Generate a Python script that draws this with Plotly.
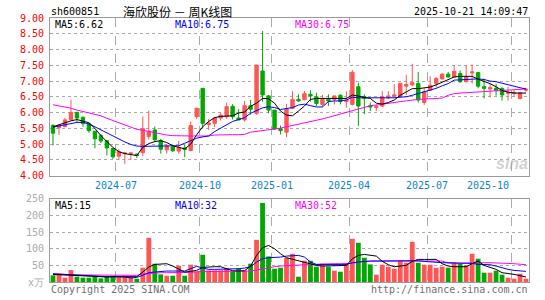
import plotly.graph_objects as go

# ---------------- data (weekly K-line, 海欣股份 sh600851) ----------------
open_ = [5.59,5.52,5.56,5.78,6.01,5.85,5.64,5.41,5.27,5.11,
         4.86,4.62,4.70,4.70,4.68,4.73,5.24,5.45,5.11,4.82,
         4.91,4.78,4.88,4.80,5.87,6.77,5.62,5.66,5.83,5.87,
         6.20,5.83,5.77,6.22,5.98,7.32,6.53,6.08,5.49,5.38,
         6.14,6.42,6.41,6.58,6.50,6.26,6.42,6.42,6.55,6.35,
         6.26,6.82,6.51,6.22,6.16,6.21,6.47,6.52,6.51,6.84,
         6.88,6.92,6.32,6.71,6.92,7.07,7.22,7.13,7.24,6.98,
         7.26,7.27,6.82,6.75,6.77,6.77,6.61,6.61,6.45,6.71]
high_ = [5.64,5.64,5.83,6.41,6.02,5.88,5.65,5.42,5.32,5.12,
         4.87,4.84,4.74,4.73,4.71,5.88,6.06,5.56,5.17,5.01,
         4.95,5.10,4.99,5.72,6.14,6.77,5.80,5.87,6.00,6.32,
         6.27,6.11,6.37,6.40,7.51,8.59,6.56,6.08,5.59,6.27,
         6.68,6.58,6.68,6.71,6.63,6.56,6.58,6.53,6.58,6.68,
         7.35,6.95,6.58,6.32,6.26,6.68,6.68,6.90,6.93,7.20,
         7.55,7.29,6.77,7.15,7.13,7.26,7.29,7.50,7.34,7.50,
         7.53,7.29,7.08,6.92,6.92,6.80,6.82,6.71,6.63,6.79]
low_ = [4.96,5.29,5.53,5.75,5.70,5.55,5.36,4.87,5.03,4.64,
        4.53,4.50,4.37,4.50,4.56,4.62,5.15,5.07,4.70,4.70,
        4.75,4.70,4.59,4.77,5.80,5.52,5.45,5.54,5.75,5.80,
        5.78,5.75,5.72,5.93,5.93,6.35,5.98,5.45,5.31,5.22,
        6.11,6.35,6.39,6.35,6.21,6.18,6.21,6.26,6.26,6.16,
        6.23,5.58,5.95,6.05,6.05,6.18,6.42,6.47,6.47,6.55,
        6.84,6.32,6.24,6.69,6.80,7.05,7.11,7.11,6.94,6.96,
        6.92,6.77,6.45,6.48,6.54,6.38,6.38,6.50,6.42,6.66]
close_ = [5.35,5.58,5.77,6.01,5.83,5.65,5.43,5.17,5.10,4.88,
          4.60,4.76,4.72,4.72,4.64,5.49,5.41,5.14,4.84,4.94,
          4.79,4.89,4.83,5.59,6.14,5.66,5.67,5.83,5.92,6.19,
          5.87,5.77,6.22,6.11,7.51,6.56,6.08,5.48,5.43,6.11,
          6.42,6.37,6.60,6.53,6.29,6.42,6.37,6.53,6.35,6.40,
          7.28,6.21,6.45,6.18,6.20,6.50,6.53,6.56,6.93,6.89,
          6.95,6.40,6.66,6.87,7.08,7.22,7.13,7.31,6.98,7.13,
          7.29,6.84,6.77,6.79,6.71,6.56,6.64,6.64,6.63,6.74]
ma5 = [5.55,5.62,5.68,5.74,5.78,5.73,5.68,5.50,5.27,5.08,
       4.90,4.76,4.70,4.67,4.64,4.90,5.02,5.08,5.11,5.05,
       4.95,4.90,4.85,5.00,5.30,5.55,5.72,5.84,5.88,5.89,
       5.90,5.99,6.02,6.20,6.30,6.45,6.44,6.30,6.05,5.92,
       5.90,6.05,6.21,6.42,6.45,6.45,6.45,6.45,6.45,6.45,
       6.56,6.52,6.48,6.45,6.30,6.27,6.32,6.40,6.55,6.66,
       6.76,6.76,6.78,6.81,6.88,6.97,7.06,7.13,7.15,7.15,
       7.15,7.06,7.00,6.92,6.82,6.70,6.65,6.62,6.62,6.62]
ma10 = [5.54,5.58,5.63,5.67,5.69,5.69,5.64,5.55,5.45,5.35,
        5.26,5.17,5.07,4.99,4.94,4.93,4.93,4.93,4.93,4.93,
        4.93,4.95,5.03,5.12,5.19,5.23,5.26,5.40,5.50,5.60,
        5.72,5.78,5.84,5.98,6.07,6.15,6.19,6.16,6.10,6.12,
        6.16,6.24,6.27,6.22,6.18,6.18,6.35,6.37,6.37,6.40,
        6.49,6.47,6.47,6.47,6.46,6.45,6.45,6.47,6.49,6.50,
        6.55,6.60,6.66,6.72,6.77,6.85,6.92,7.03,7.04,7.05,
        7.08,7.07,7.05,7.00,6.98,6.93,6.87,6.82,6.79,6.75]
ma30 = [6.25,6.22,6.19,6.14,6.08,6.04,6.00,5.95,5.90,5.82,
        5.75,5.68,5.60,5.53,5.47,5.44,5.40,5.35,5.32,5.29,
        5.27,5.26,5.26,5.26,5.26,5.26,5.26,5.29,5.30,5.30,
        5.30,5.30,5.31,5.38,5.40,5.43,5.45,5.48,5.51,5.55,
        5.59,5.62,5.66,5.70,5.75,5.80,5.85,5.90,5.96,6.01,
        6.07,6.11,6.17,6.22,6.24,6.26,6.28,6.32,6.35,6.38,
        6.40,6.42,6.43,6.44,6.45,6.46,6.55,6.60,6.62,6.63,
        6.64,6.66,6.67,6.68,6.69,6.70,6.71,6.72,6.74,6.75]
volume = [20,25,13,36,16,13,13,16,11,16,
          16,16,16,16,10,43,133,55,23,19,
          19,49,19,52,31,82,35,35,35,42,
          32,41,34,55,127,238,77,40,43,73,
          85,16,64,64,46,55,46,34,31,55,
          130,118,73,53,22,52,46,40,64,58,
          121,58,52,52,43,46,43,58,55,49,
          85,70,28,28,34,22,13,10,25,10]
vma5 = [23,22,22,21,20,19,18,15,14,15,
        16,16,15,14,16,30,45,53,54,55,
        48,40,30,32,35,44,46,46,46,40,
        34,33,34,48,80,103,110,100,85,73,
        68,63,58,53,50,48,49,50,50,50,
        70,80,83,80,78,62,52,46,48,50,
        62,68,68,68,68,55,48,46,46,46,
        55,63,50,45,38,28,26,23,19,15]
vma10 = [25,24,23,22,20,18,17,16,16,16,
         16,16,15,12,14,20,28,30,32,33,
         33,33,33,40,47,42,38,38,38,38,
         38,40,42,46,60,70,73,73,75,78,
         80,80,75,60,53,53,53,53,53,53,
         58,61,62,63,63,63,63,63,64,65,
         65,64,62,60,58,58,58,58,58,58,
         56,53,53,52,48,42,38,35,33,32]
vma30 = [22,22,21,21,21,20,20,20,20,20,
         20,20,20,20,20,24,26,27,28,28,
         28,28,28,29,31,31,31,31,31,31,
         31,31,32,33,36,40,44,46,48,50,
         50,51,52,53,54,55,55,55,55,55,
         56,60,62,63,63,63,63,63,63,63,
         63,63,63,63,63,63,57,56,56,57,
         58,58,58,58,58,57,56,55,54,52]
month_labels = ["2024-07", "2024-10", "2025-01", "2025-04", "2025-07", "2025-10"]
month_start_idx = [11, 25, 37, 50, 63, 77]
price_ticks = [4.0, 4.5, 5.0, 5.5, 6.0, 6.5, 7.0, 7.5, 8.0, 8.5, 9.0]
vol_ticks = [0, 50, 100, 150, 200, 250]
vol_tick_text = ["x万", "50", "100", "150", "200", "250"]

# ---------------- styling ----------------
RED = "#FF5555"
GREEN = "#00A800"
BLUE = "#0000FF"
MAG = "#FF00FF"
BLACK = "#000000"
GRID = "#ABABAB"
FRAME = "#9A9A9A"
MONO = "DejaVu Sans Mono"
CJK = "Noto Sans CJK SC"

N = len(close_)
x = list(range(N))
grid_x = [i - 0.5 for i in month_start_idx]

fig = go.Figure()
fig.add_trace(go.Candlestick(
    x=x, open=open_, high=high_, low=low_, close=close_,
    increasing=dict(line=dict(color=RED, width=1), fillcolor=RED),
    decreasing=dict(line=dict(color=GREEN, width=1), fillcolor=GREEN),
    whiskerwidth=0, xaxis="x", yaxis="y", showlegend=False, hoverinfo="skip"))
for arr, col in [(ma30, MAG), (ma10, BLUE), (ma5, BLACK)]:
    fig.add_trace(go.Scatter(x=x, y=arr, mode="lines", line=dict(color=col, width=1),
                             xaxis="x", yaxis="y", showlegend=False, hoverinfo="skip"))

vol_colors = [RED if c >= o else GREEN for o, c in zip(open_, close_)]
fig.add_trace(go.Bar(x=x, y=volume, width=0.8, marker=dict(color=vol_colors, line=dict(width=0)),
                     xaxis="x2", yaxis="y2", showlegend=False, hoverinfo="skip"))
for arr, col in [(vma30, MAG), (vma10, BLUE), (vma5, BLACK)]:
    fig.add_trace(go.Scatter(x=x, y=arr, mode="lines", line=dict(color=col, width=1),
                             xaxis="x2", yaxis="y2", showlegend=False, hoverinfo="skip"))

W, H = 545, 300
ML, MR, MT, MB = 50, 15.5, 18, 15
pw = W - ML - MR
ph = H - MT - MB


def px(xp):
    return (xp - ML) / pw


def py(yp):
    return (H - MB - yp) / ph


top_dom = [py(177.5), 1.0]
bot_dom = [0.0, py(201)]

xcommon = dict(range=[-0.5, N - 0.5], tickvals=grid_x, showticklabels=False, ticks="",
               showgrid=True, gridcolor=GRID, griddash="dash", gridwidth=1,
               showline=True, mirror=True, linecolor=FRAME, linewidth=1, zeroline=False,
               fixedrange=True)

fig.update_layout(
    width=W, height=H,
    margin=dict(l=ML, r=MR, t=MT, b=MB, pad=0),
    paper_bgcolor="white", plot_bgcolor="white",
    showlegend=False, boxgap=0.2,
    xaxis=dict(domain=[0, 1], anchor="y", rangeslider=dict(visible=False), **xcommon),
    xaxis2=dict(domain=[0, 1], anchor="y2", matches="x", **xcommon),
    yaxis=dict(domain=top_dom, anchor="x", range=[4, 9], tickvals=price_ticks,
               ticktext=["%.2f" % v for v in price_ticks],
               tickfont=dict(family=MONO, size=10, color="#FF0000"),
               showgrid=True, gridcolor=GRID, griddash="dot", gridwidth=1,
               showline=True, mirror=True, linecolor=FRAME, linewidth=1, zeroline=False,
               ticks="", ticklabelstandoff=3),
    yaxis2=dict(domain=bot_dom, anchor="x2", range=[0, 250], tickvals=vol_ticks,
                ticktext=vol_tick_text,
                tickfont=dict(family=MONO, size=10, color="#AAAAAA"),
                showgrid=True, gridcolor=GRID, griddash="dot", gridwidth=1,
                showline=True, mirror=True, linecolor=FRAME, linewidth=1, zeroline=False,
                ticks="", ticklabelstandoff=3),
)

ann = []


def text(xp, yp, s, color="#000000", size=10, family=MONO, anchor="left", **kw):
    ann.append(dict(x=px(xp), y=py(yp), xref="paper", yref="paper", text=s, showarrow=False,
                    xanchor=anchor, yanchor="middle", font=dict(family=family, size=size, color=color),
                    borderpad=0, **kw))


# header
text(50, 11, "sh600851", size=10)
text(178, 11, "海欣股份 － 周K线图", size=12, family=CJK, anchor="center")
text(529.5, 11, "2025-10-21 14:09:47", size=10, anchor="right")
# price legend
text(54, 24.5, "MA5:" + "%.2f" % ma5[-1], BLACK)
text(174, 24.5, "MA10:" + "%.2f" % ma10[-1], BLUE)
text(294, 24.5, "MA30:" + "%.2f" % ma30[-1], MAG)
# volume legend
text(54, 207.5, "MA5:%d" % vma5[-1], BLACK)
text(174, 207.5, "MA10:%d" % vma10[-1], BLUE)
text(294, 207.5, "MA30:%d" % vma30[-1], MAG)
# footer
text(50, 293, "Copyright 2025 SINA.COM", "#707070")
text(529.5, 293, "http://finance.sina.com.cn", "#707070", anchor="right")
# watermark
text(512, 165, "<b><i>sina</i></b>", "rgba(170,170,170,0.55)", size=16, family="Liberation Sans",
     anchor="center")

# month tick labels (data driven x positions)
for k, (lab, idx) in enumerate(zip(month_labels, month_start_idx)):
    last = k == len(month_labels) - 1
    ann.append(dict(x=idx - 0.5, y=py(187), xref="x", yref="paper", text=lab, showarrow=False,
                    xanchor="right" if last else "center", yanchor="middle",
                    font=dict(family=MONO, size=10, color="#0A84D0")))

fig.update_layout(annotations=ann)
fig.write_html("out.html")
